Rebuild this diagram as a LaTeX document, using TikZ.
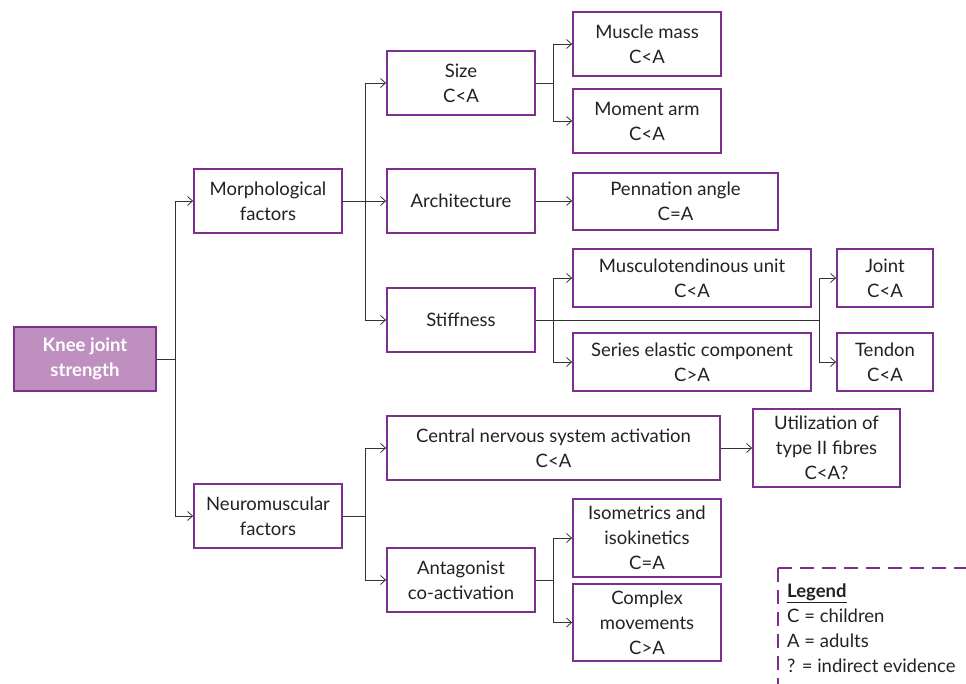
\documentclass[tikz,border=0pt]{standalone}
\usepackage{fontspec}
\setmainfont{Lato}
\usetikzlibrary{arrows.meta,calc}
\definecolor{boxpurple}{HTML}{7E2F8E}
\definecolor{rootfill}{HTML}{BF8FC0}
\definecolor{linegray}{HTML}{333333}
\definecolor{txt}{HTML}{222222}
\begin{document}
\begin{tikzpicture}[x=1pt,y=-1pt,
  box/.style={draw=boxpurple, line width=1.8pt, fill=white, align=center, text=txt,
     font=\fontsize{18.5}{25}\selectfont, inner sep=0pt},
  rootbox/.style={box, fill=rootfill, text=white, font=\fontsize{18.5}{25}\selectfont\bfseries},
  conn/.style={draw=linegray, line width=0.9pt},
  arr/.style={conn, -{Straight Barb[length=5pt,width=9pt,line width=0.8pt]}}
]
\useasboundingbox (0,0) rectangle (966,684);

% nodes
\node[rootbox, minimum width=142pt, minimum height=64pt] (root) at (85,359) {Knee joint\\strength};
\node[box, minimum width=148pt, minimum height=64pt] (morph) at (268,201) {Morphological\\factors};
\node[box, minimum width=148pt, minimum height=64pt] (neuro) at (268,516) {Neuromuscular\\factors};
\node[box, minimum width=148pt, minimum height=64pt] (size) at (461,83) {Size\\C<A};
\node[box, minimum width=148pt, minimum height=64pt] (arch) at (461,201) {Architecture};
\node[box, minimum width=148pt, minimum height=64pt] (stiff) at (461,320) {Stiffness};
\node[box, minimum width=148pt, minimum height=64pt] (mm) at (647,44) {Muscle mass\\C<A};
\node[box, minimum width=148pt, minimum height=64pt] (ma) at (647,121) {Moment arm\\C<A};
\node[box, minimum width=205pt, minimum height=57pt] (pen) at (675.5,201.5) {Pennation angle\\C=A};
\node[box, minimum width=238pt, minimum height=58pt] (mtu) at (692,278) {Musculotendinous unit\\C<A};
\node[box, minimum width=238pt, minimum height=58pt] (sec) at (692,362) {Series elastic component\\C>A};
\node[box, minimum width=96pt, minimum height=58pt] (joint) at (885,278) {Joint\\C<A};
\node[box, minimum width=96pt, minimum height=58pt] (tendon) at (885,362) {Tendon\\C<A};
\node[box, minimum width=333pt, minimum height=64pt] (cns) at (553.5,448) {Central nervous system activation\\C<A};
\node[box, minimum width=147pt, minimum height=78pt] (util) at (826.5,448) {Utilization of\\type II fibres\\C<A?};
\node[box, minimum width=148pt, minimum height=64pt] (antag) at (461,580) {Antagonist\\co-activation};
\node[box, minimum width=148pt, minimum height=78pt] (iso) at (647,538) {Isometrics and\\isokinetics\\C=A};
\node[box, minimum width=148pt, minimum height=77pt] (cplx) at (647,622.5) {Complex\\movements\\C>A};

% connectors
\draw[conn] (root.east) -- ++(19,0) coordinate (r1);
\draw[arr] (r1) |- (morph.west);
\draw[arr] (r1) |- (neuro.west);

\draw[conn] (morph.east) -- ++(23,0) coordinate (m1);
\draw[arr] (m1) |- (size.west);
\draw[arr] (m1) -- (arch.west);
\draw[arr] (m1) |- (stiff.west);

\draw[conn] (size.east) -- ++(18,0) coordinate (s1);
\draw[arr] (s1) |- (mm.west);
\draw[arr] (s1) |- (ma.west);

\draw[arr] (arch.east) -- (arch.east -| pen.west);

\coordinate (st1) at ([xshift=18pt]stiff.east);
\coordinate (st2) at ([xshift=-17pt]joint.west |- stiff.east);
\draw[conn] (stiff.east) -- (st2);
\draw[arr] (st1) |- (mtu.west);
\draw[arr] (st1) |- (sec.west);
\draw[arr] (st2) |- (joint.west);
\draw[arr] (st2) |- (tendon.west);

\draw[conn] (neuro.east) -- ++(23,0) coordinate (n1);
\draw[arr] (n1) |- (cns.west);
\draw[arr] (n1) |- (antag.west);

\draw[arr] (cns.east) -- (util.west);

\draw[conn] (antag.east) -- ++(18,0) coordinate (a1);
\draw[arr] (a1) |- (iso.west);
\draw[arr] (a1) |- (cplx.west);

% legend
\coordinate (lg) at (778,568);
\draw[boxpurple, line width=1.8pt, dash pattern=on 14pt off 8pt] (lg) -- (966,568);
\draw[boxpurple, line width=1.8pt, dash pattern=on 14pt off 8pt] (lg) -- (778,684);
\node[anchor=north west, align=left, text=txt, inner sep=0pt,
  font=\fontsize{18.5}{24.7}\selectfont] (legend) at (787,584)
  {\underline{\textbf{Legend}}\\C = children\\A = adults\\? = indirect evidence};
\end{tikzpicture}
\end{document}
